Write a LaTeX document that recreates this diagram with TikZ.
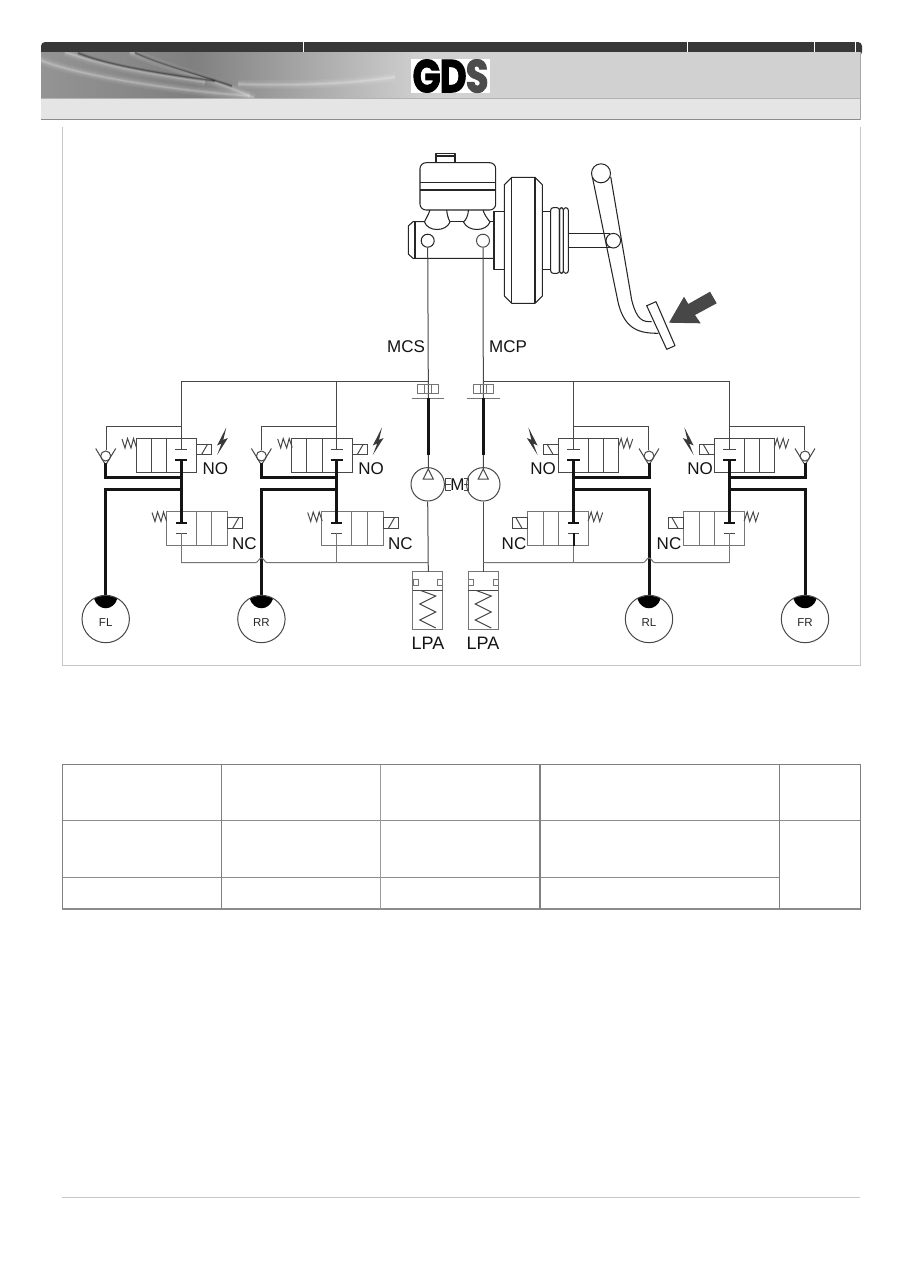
\documentclass[tikz,border=0pt]{standalone}
\usepackage{fontspec}
\setmainfont{Liberation Sans}
\newfontfamily\logofont[FakeBold=2.5]{Poppins Bold}
\usetikzlibrary{calc}
\definecolor{ln}{HTML}{484848}
\definecolor{lng}{HTML}{757575}
\definecolor{thk}{HTML}{141414}
\tikzset{
  thin line/.style={draw=ln,line width=1pt},
  gray line/.style={draw=lng,line width=1pt},
  thick pipe/.style={draw=thk,line width=3pt},
  bar/.style={draw=thk,line width=2.2pt},
  part/.style={draw=black!85,line width=1.05pt,line join=round},
  lbl/.style={inner sep=0pt,font=\fontsize{17}{17}\selectfont,text=black!92},
  whl/.style={inner sep=0pt,font=\fontsize{11.5}{11.5}\selectfont,text=black!85},
  tbl/.style={draw=black!50,line width=1pt}
}
% one valve pair: #1 name, #2 xshift, #3 xscale
\newcommand{\valvepair}[3]{%
\begin{scope}[xshift=#2pt,xscale=#3]
  \coordinate (feed#1) at (181,449.3);
  \coordinate (ret#1) at (181,533.3);
  % bypass and feed
  \draw[thin line] (106,450) -- (106,426.7) -- (181,426.7);
  \draw[thin line] (181,426.7) -- (feed#1);
  % NO valve
  \draw[thin line] (136,438.3) rectangle (196.7,472.7);
  \draw[thin line] (151,438.3) -- (151,472.7) (166.3,438.3) -- (166.3,472.7);
  \draw[thin line] (136.5,447.5) -- (133.5,438.5) -- (131,448) -- (127.5,438.5) -- (125,448) -- (122,439);
  \draw[thin line] (196.7,444) rectangle (211.7,454.3);
  \draw[thin line] (201.7,454.3) -- (207.7,444);
  \draw[thin line] (175,449.3) -- (187.3,449.3);
  \draw[bar] (175,460) -- (187.3,460);
  % NC valve
  \draw[gray line] (166,511.7) rectangle (227.7,545.7);
  \draw[gray line] (196,511.7) -- (196,545.7) (211.7,511.7) -- (211.7,545.7);
  \draw[thin line] (166.5,521) -- (163.5,512) -- (161,521.5) -- (157.5,512) -- (155,521.5) -- (152,512.5);
  \draw[thin line] (227.7,517.7) rectangle (242.7,528.3);
  \draw[thin line] (232.7,528.3) -- (238.7,517.7);
  \draw[bar] (175.5,522.7) -- (186.5,522.7);
  \draw[thin line] (175.5,533.3) -- (186.5,533.3);
  \draw[gray line] (ret#1) -- (181,562.7);
  % check valve
  \draw[thin line] (95.7,448.5) -- (105.7,465) -- (115.7,448.5);
  \draw[thin line] (105.7,456) circle (5);
  % thick pipes
  \draw[thick pipe] (181,460) -- (181,522.7);
  \draw[thick pipe,line join=miter] (105.7,463) -- (105.7,477.3) -- (181,477.3);
  \draw[thick pipe,line join=miter] (181,489.3) -- (105.7,489.3) -- (105.7,597);
  % wheel cap
  \fill[black] (94,598.5) .. controls (99,595) and (112.4,595) .. (117.4,598.5)
     .. controls (113.5,611.5) and (98,611.5) .. (94,598.5) -- cycle;
\end{scope}}
\newcommand{\bolt}[1]{%
\fill[black!78,shift={(#1,0)}] (0.6,427.5) -- (-8.6,445.5) -- (-4.2,443.5) -- (-8.6,455) -- (2.2,438) -- (-2.4,439.8) -- cycle;}
\begin{document}
\begin{tikzpicture}[x=1pt,y=-1pt]
\useasboundingbox (0,0) rectangle (909,1286);
\fill[white] (0,0) rectangle (909,1286);
% ---------- header ----------
\fill[black!78,rounded corners=4pt] (41,42) -- (862,42) -- (862,56) -- (41,56) -- cycle;
\fill[left color=black!42,right color=black!50] (41,52) rectangle (193,98);
\fill[left color=black!50,right color=black!18] (193,52) rectangle (425,98);
\fill[black!18] (425,52) rectangle (860,98);
\begin{scope}
\clip (41,52) rectangle (860,98);
\foreach \w/\o in {9/.05,6/.07,3.5/.1,1.5/.18}{
 \draw[white,line width=\w pt,opacity=\o] (40,60) .. controls (80,76) and (170,90) .. (250,96);
 \draw[white,line width=\w pt,opacity=\o] (238,84) .. controls (290,86) and (350,84) .. (395,77);
 \draw[white,line width=\w pt,opacity=\o] (130,52) .. controls (175,70) and (215,80) .. (254,98);
 \draw[white,line width=\w pt,opacity=\o] (65,52) .. controls (110,68) and (165,76) .. (205,82);
}
\foreach \w/\o in {4/.1,2/.16,1/.25}{
 \draw[black,line width=\w pt,opacity=\o] (78,53) .. controls (110,66) and (165,74) .. (215,81);
 \draw[black,line width=\w pt,opacity=\o] (135,53) .. controls (165,66) and (190,72) .. (232,86);
}
\end{scope}
\foreach \x in {303.5,687.5,814.5,855}{\draw[white,line width=.5pt] (\x,42) -- (\x,52);}
\fill[black!10] (41,99) rectangle (860,119);
\draw[black!30,line width=1pt] (41,98.5) -- (860,98.5);
\draw[black!45,line width=1pt] (41,119.5) -- (860,119.5);
\draw[black!35,line width=1pt] (860,52) -- (860,119.5);
\fill[white] (411,59) rectangle (490,93);
\begin{scope}
\clip (411,59) rectangle (490,93);
\node[inner sep=0pt,xscale=.80,anchor=center] (logo) at (450.5,76)
  {\fontsize{46}{46}\selectfont\logofont\color{black}G\kern-1pt D\kern-1pt\color{black!70}S};
\end{scope}
% ---------- diagram frame ----------
\draw[black!22,line width=1pt] (62.5,127) -- (62.5,665.5) -- (860,665.5) -- (860,127);
% ---------- master cylinder ----------
\draw[part] (436,162.7) -- (436,153.6) -- (455,153.6) -- (455,162.7);
\draw[part] (436,156) -- (455,156);
\draw[part,rounded corners=6pt] (420,162.7) rectangle (495.7,210);
\draw[part] (420,182.7) -- (495.7,182.7) (420,190) -- (495.7,190);
\draw[part] (430,210) .. controls (428,216) and (425,220) .. (424.5,222)
   .. controls (428,232) and (446,232) .. (450,222) .. controls (448,218) and (447,214) .. (446.7,210);
\draw[part] (468.5,210) .. controls (468,216) and (466,220) .. (463.5,222)
   .. controls (468,232) and (486,232) .. (490,222) .. controls (487,218) and (484,214) .. (483,210);
\draw[part] (424.5,221.7) -- (413,221.7) -- (408.3,226) -- (408.3,254) -- (413,258.3) -- (494,258.3);
\draw[part] (450,221.7) -- (463.5,221.7);
\draw[part] (490,221.7) -- (494,221.7);
\draw[part] (415,222) -- (415,258.3);
\node[draw=black!85,line width=1pt,circle,minimum size=13pt,inner sep=0pt,fill=white] (mcs) at (427.7,240.7) {};
\node[draw=black!70,line width=1pt,circle,minimum size=13pt,inner sep=0pt,fill=white] (mcp) at (483,240.7) {};
% booster
\draw[part] (494,211.7) rectangle (504.3,269.3);
\draw[part] (504.3,184.7) -- (511.7,177.3) -- (535,177.3) -- (542.3,184.7) -- (542.3,296) -- (535,303.3) -- (511.7,303.3) -- (504.3,296) -- cycle;
\draw[part] (511.7,177.3) -- (511.7,303.3) (535,177.3) -- (535,303.3);
\draw[part] (542.3,211.7) -- (550.7,211.7) (542.3,269.3) -- (550.7,269.3);
\draw[part,rounded corners=2.5pt] (550.7,207.7) rectangle (559.5,273.3);
\draw[part,rounded corners=2.5pt] (559.5,207.7) rectangle (563.4,273.3);
\draw[part,rounded corners=2.5pt] (563.4,207.7) rectangle (568.3,273.3);
\draw[part] (568.3,233.3) -- (610,233.3) (568.3,247.7) -- (610,247.7);
% pedal
\draw[part] (592.3,176.7) -- (618.3,303.3) .. controls (625,330) and (640,333.3) .. (658.3,333.3);
\draw[part] (610.7,176.7) -- (631.7,300) .. controls (637,321) and (643,321.7) .. (651.7,321.7);
\node[draw=black!85,line width=1pt,circle,minimum size=14.6pt,inner sep=0pt,fill=white] (pin) at (613.3,240.7) {};
\node[draw=black!85,line width=1pt,circle,minimum size=19pt,inner sep=0pt,fill=white] (pivot) at (601,173.3) {};
\draw[part,fill=white] (646.7,305.7) -- (656,301.7) -- (675,345.7) -- (666.7,349.3) -- cycle;
\fill[black!72] (669,322.7) -- (684,296.7) -- (688.3,304) -- (710,291.7) -- (716.7,303.3) -- (695,315) -- (700.7,323.3) -- cycle;
\node[lbl,anchor=center] (tmcs) at (406,346.7) {MCS};
\node[lbl,anchor=center] (tmcp) at (508,346.7) {MCP};
% ---------- pumps ----------
\node[circle,draw=ln,line width=1pt,minimum size=33.4pt,inner sep=0pt] (pumpL) at (427.7,484.3) {};
\node[circle,draw=ln,line width=1pt,minimum size=33.4pt,inner sep=0pt] (pumpR) at (483.3,484.3) {};
\node[lbl,font=\fontsize{17}{17}\selectfont,anchor=center] (motor) at (457.5,484.3) {M};
\draw[thin line] (445,478) -- (451,478) (445,484.3) -- (451,484.3) (445,490.5) -- (451,490.5) (445,478) -- (445,490.5);
\draw[thin line] (464,478) -- (468,478) (464,484.3) -- (468,484.3) (464,490.5) -- (468,490.5) (468,478) -- (468,490.5);
\draw[thin line] (428.3,469) -- (423.3,479) -- (433.3,479) -- cycle;
\draw[thin line] (483.3,469) -- (478.3,479) -- (488.3,479) -- cycle;
% cutoff valves
\coordinate (cL) at (428.3,381);
\coordinate (cR) at (483.3,381);
\draw[thin line] (mcs.south) -- (cL) -- (428.3,469);
\draw[thin line] (mcp.south) -- (cR) -- (483.3,469);
\foreach \x in {428,483.5}{
 \draw[gray line] (\x-10.3,384.3) rectangle (\x+10.3,393.3);
 \draw[gray line] (\x-3.3,384.3) -- (\x-3.3,393.3) (\x+3.3,384.3) -- (\x+3.3,393.3);
 \draw[gray line] (\x-16.4,398.3) -- (\x+16.4,398.3);
}
\draw[thick pipe,line width=2.6pt] (428.3,398.3) -- (428.3,455);
\draw[thick pipe,line width=2.6pt] (483.3,398.3) -- (483.3,455);
% LPAs
\foreach \n/\x in {L/412.7,R/468.3}{
 \draw[gray line] (\x,571.7) rectangle (\x+30,629.3);
 \draw[thin line] (\x,590) -- (\x+30,590);
 \draw[gray line] (\x+.5,579.3) rectangle (\x+5.5,585) (\x+25,579.3) rectangle (\x+30,585);
 \draw[thin line] (\x+8,590.5) -- (\x+23,596) -- (\x+7,604) -- (\x+23,612) -- (\x+7,620) -- (\x+23,628);
}
\draw[thin line] (pumpL.south) -- (428.3,571.7);
\draw[thin line] (pumpR.south) -- (483.3,571.7);
\node[lbl,font=\fontsize{18}{18}\selectfont,anchor=center] (lpaL) at (428,643.5) {LPA};
\node[lbl,font=\fontsize{18}{18}\selectfont,anchor=center] (lpaR) at (483,643.5) {LPA};
% ---------- valves ----------
\valvepair{FL}{0}{1}
\valvepair{RR}{155.7}{1}
\valvepair{RL}{754.7}{-1}
\valvepair{FR}{910.7}{-1}
\draw[thick pipe,line width=1.6pt] (573.7,533.3) -- (573.7,545.7);
% header rail and return rail
\draw[thin line] (feedFL) -- (181,381) -- (cL);
\draw[thin line] (feedRR) -- (336.7,381);
\draw[thin line] (feedFR) -- (729.7,381) -- (cR);
\draw[thin line] (feedRL) -- (573.7,381);
\draw[gray line] (181,562.7) -- (255.5,562.7) .. controls (258,562.7) and (259,558) .. (261.4,558) .. controls (263.8,558) and (264.8,562.7) .. (267.3,562.7) -- (428.3,562.7);
\draw[gray line] (483.3,562.7) -- (643,562.7) .. controls (645.5,562.7) and (646.5,558) .. (649,558) .. controls (651.5,558) and (652.5,562.7) .. (655,562.7) -- (729.7,562.7);
% ---------- wheels ----------
\foreach \n/\t/\x in {FL/FL/105.7,RR/RR/261.4,RL/RL/649,FR/FR/805}{
 \node[circle,draw=ln,line width=1pt,minimum size=47.4pt,inner sep=0pt] (w\n) at (\x,619) {};
 \node[whl,anchor=center] (t\n) at (\x,622.3) {\t};
}
% labels
\foreach \n/\x/\y/\t in {a/215.3/468.3/NO,b/371/468.3/NO,c/543/468.3/NO,d/700/468.3/NO,
   e/244.5/543.3/NC,f/400.3/543.3/NC,g/514/543.3/NC,h/669/543.3/NC}{
 \node[lbl,anchor=center] (l\n) at (\x,\y) {\t};
}
\bolt{225.7}
\bolt{381.4}
\begin{scope}[xshift=754.7pt,xscale=-1]\bolt{225.7}\end{scope}
\begin{scope}[xshift=910.7pt,xscale=-1]\bolt{225.7}\end{scope}
% ---------- table ----------
\draw[tbl] (62,764.5) rectangle (860,909);
\draw[tbl,line width=1.8pt,black!45] (62,909) -- (860,909);
\draw[tbl,line width=1.4pt,black!45] (62,820.5) -- (860,820.5);
\draw[tbl,line width=1.4pt,black!45] (62,877.5) -- (779,877.5);
\draw[tbl,line width=1pt] (221,764.5) -- (221,909);
\draw[tbl,line width=.7pt,black!40] (380,764.5) -- (380,909);
\draw[tbl,line width=1.8pt,black!50] (540,764.5) -- (540,909);
\draw[tbl,line width=1pt] (779,764.5) -- (779,909);
% footer
\draw[black!22,line width=1pt] (62,1197.5) -- (860,1197.5);
\end{tikzpicture}
\end{document}
